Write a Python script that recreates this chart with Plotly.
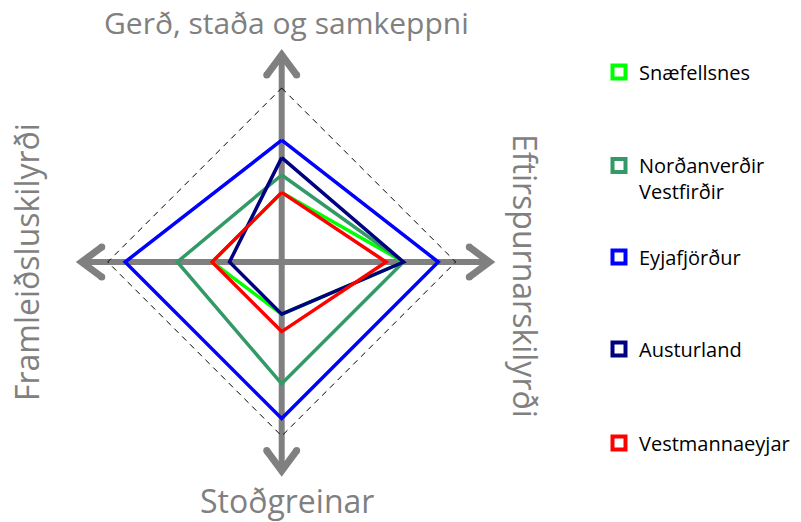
import plotly.graph_objects as go

# Axis (category) names: top, right, bottom, left
categories = ["Gerð, staða og samkeppni", "Eftirspurnarskilyrði", "Stoðgreinar", "Framleiðsluskilyrði"]

# Series values, in category order (scale 0-5)
series_names = ["Snæfellsnes", "Norðanverðir<br>Vestfirðir", "Eyjafjörður", "Austurland", "Vestmannaeyjar"]
snaefellsnes = [2.0, 3.5, 1.5, 2.0]
nordanverdir_vestfirdir = [2.5, 3.5, 3.5, 3.0]
eyjafjordur = [3.5, 4.5, 4.5, 4.5]
austurland = [3.0, 3.5, 1.5, 1.5]
vestmannaeyjar = [2.0, 3.0, 2.0, 2.0]
max_values = [5.0, 5.0, 5.0, 5.0]

series_values = [snaefellsnes, nordanverdir_vestfirdir, eyjafjordur, austurland, vestmannaeyjar]
series_colors = ["#00ff00", "#339966", "#0000ff", "#000080", "#ff0000"]

# direction of each axis (up, right, down, left)
dirs = [(0, 1), (1, 0), (0, -1), (-1, 0)]
arrow_len = [5.95, 5.97, 6.0, 5.75]
head_back, head_side = 0.58, 0.43

W, H = 801, 522
CX, CY = 281.7, 262.0          # centre in pixels
PX_PER_UNIT = 174.0 / 5.0

def px(x):
    return x / W

def py(y):
    return 1 - y / H

def to_xy(vals):
    xs = [v * d[0] for v, d in zip(vals, dirs)]
    ys = [v * d[1] for v, d in zip(vals, dirs)]
    return xs + xs[:1], ys + ys[:1]

fig = go.Figure()
GRAY = "#808080"

# axis arrows
for (dx, dy), L in zip(dirs, arrow_len):
    fig.add_trace(go.Scatter(x=[0, dx * L], y=[0, dy * L], mode="lines",
                             line=dict(color=GRAY, width=6), showlegend=False, hoverinfo="skip"))
    tx, ty = dx * L, dy * L
    bx, by = tx - dx * head_back, ty - dy * head_back
    sx, sy = -dy * head_side, dx * head_side
    fig.add_trace(go.Scatter(x=[bx + sx, tx, bx - sx], y=[by + sy, ty, by - sy], mode="lines",
                             line=dict(color=GRAY, width=7), showlegend=False, hoverinfo="skip"))
    fig.add_trace(go.Scatter(x=[bx + sx, bx - sx], y=[by + sy, by - sy], mode="markers",
                             marker=dict(color=GRAY, size=7, line=dict(width=0)),
                             showlegend=False, hoverinfo="skip"))

# outer dashed diamond
mx, my = to_xy(max_values)
fig.add_trace(go.Scatter(x=mx, y=my, mode="lines", line=dict(color="black", width=1, dash="6px,5px"),
                         showlegend=False, hoverinfo="skip"))

# series
for name, vals, col in zip(series_names, series_values, series_colors):
    xs, ys = to_xy(vals)
    fig.add_trace(go.Scatter(x=xs, y=ys, mode="lines", line=dict(color=col, width=3.5),
                             name=name, showlegend=False))

# legend entries (one legend per series, positioned individually)
legend_y_px = [72, 162, 257, 349, 443]
legend_names = ["legend", "legend2", "legend3", "legend4", "legend5"]
for i, (name, col) in enumerate(zip(series_names, series_colors)):
    fig.add_trace(go.Scatter(x=[None], y=[None], mode="markers", name=name,
                             marker=dict(symbol="square-open", size=13, color=col, line=dict(width=4, color=col)),
                             legend=legend_names[i]))

legend_layout = {}
for i, ln in enumerate(legend_names):
    legend_layout[ln] = dict(
        x=px(599), xanchor="left",
        y=py(legend_y_px[i]), yanchor="middle",
        bgcolor="rgba(0,0,0,0)", borderwidth=0,
        font=dict(family="Open Sans", size=20, color="black"),
        valign="top",
    )
legend_layout["legend2"]["yanchor"] = "top"
legend_layout["legend2"]["y"] = py(legend_y_px[1] - 16)

annotations = [
    dict(text=categories[0], x=px(286), y=py(22), font=dict(size=30, color=GRAY)),
    dict(text=categories[1], x=px(526), y=py(276), textangle=90, font=dict(size=32, color=GRAY)),
    dict(text=categories[2], x=px(287), y=py(500), font=dict(size=32, color=GRAY)),
    dict(text=categories[3], x=px(26), y=py(262), textangle=-90, font=dict(size=32, color=GRAY)),
]
for a in annotations:
    a.update(xref="paper", yref="paper", showarrow=False, xanchor="center", yanchor="middle")
    a["font"]["family"] = "Open Sans"

fig.update_layout(
    width=W, height=H,
    margin=dict(l=0, r=0, t=0, b=0),
    paper_bgcolor="white", plot_bgcolor="white",
    xaxis=dict(range=[-CX / PX_PER_UNIT, (W - CX) / PX_PER_UNIT], visible=False, fixedrange=True),
    yaxis=dict(range=[-(H - CY) / PX_PER_UNIT, CY / PX_PER_UNIT], visible=False, fixedrange=True),
    annotations=annotations,
    **legend_layout,
)

fig.write_html("out.html", config={"displayModeBar": False},
               post_script="document.body.style.margin='0';document.body.style.overflow='hidden';")
